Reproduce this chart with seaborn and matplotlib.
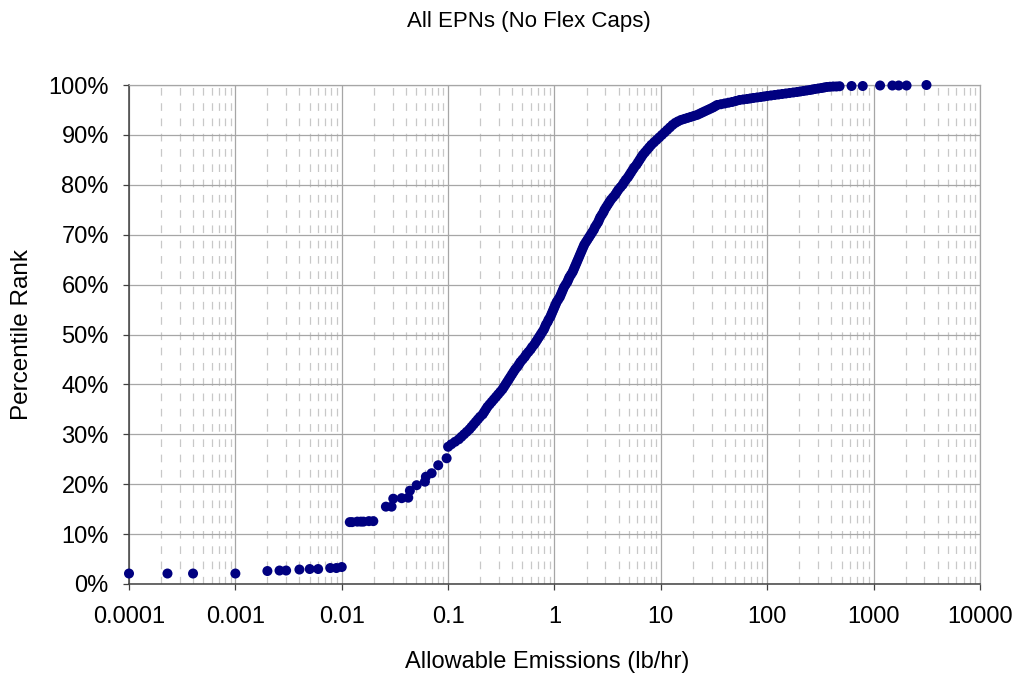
import matplotlib
matplotlib.use("Agg")
import matplotlib.pyplot as plt
import seaborn as sns
import pandas as pd
import numpy as np
from matplotlib.ticker import FixedLocator, FuncFormatter, PercentFormatter, LogLocator, NullFormatter

# ---- data (x: lb/hr, y: percentile rank %) ----
low_x = [0.0001, 0.00023, 0.0004, 0.001, 0.002, 0.0026, 0.003, 0.004, 0.005, 0.006,
         0.0078, 0.0089, 0.01]
low_y = [2.1, 2.1, 2.1, 2.1, 2.6, 2.7, 2.7, 2.9, 3.0, 3.0, 3.2, 3.2, 3.4]

mid_x = [0.0119, 0.0125, 0.014, 0.0151, 0.016, 0.018, 0.0198,
         0.026, 0.0294, 0.0305, 0.0366, 0.0422, 0.0437, 0.0506, 0.0605, 0.0618,
         0.070, 0.0807, 0.0968]
mid_y = [12.4, 12.4, 12.5, 12.5, 12.5, 12.6, 12.6,
         15.5, 15.5, 17.1, 17.2, 17.3, 18.7, 19.8, 20.5, 21.5,
         22.2, 23.8, 25.2]

# main curve: percentile level and log10(x) read at that level
curve_y = [27.5, 28, 28.5, 29, 29.5, 30, 30.5, 31, 31.5, 32, 32.5, 33, 33.5, 34, 34.5,
           35, 35.5, 36, 36.5, 37, 37.5, 38, 38.5, 39, 39.5, 40, 40.5, 41, 41.5, 42,
           42.5, 43, 43.5, 44, 44.5, 45, 45.5, 46, 46.5, 47, 47.5, 48, 48.5, 49, 49.5,
           50, 50.5, 51, 51.5, 52, 52.5, 53, 53.5, 54, 54.5, 55, 55.5, 56, 56.5, 57,
           57.5, 58, 58.5, 59, 59.5, 60, 60.5, 61, 61.5, 62, 62.5, 63, 63.5, 64, 64.5,
           65, 65.5, 66, 66.5, 67, 67.5, 68, 68.5, 69, 69.5, 70, 70.5, 71, 71.5, 72,
           72.5, 73, 73.5, 74, 74.5, 75, 75.5, 76, 76.5, 77, 77.5, 78, 78.5, 79, 79.5,
           80, 80.5, 81, 81.5, 82, 82.5, 83, 83.5, 84, 84.5, 85, 85.5, 86, 86.5, 87,
           87.5, 88, 88.5, 89, 89.5, 90, 90.5, 91, 91.5, 92, 92.4, 92.7, 93.0, 93.2,
           93.4, 93.6, 93.8, 94.0, 94.25, 94.5, 94.75, 95.0, 95.25, 95.5, 95.75, 96.0,
           96.15, 96.3, 96.45, 96.6, 96.8, 97.0, 97.1, 97.2, 97.3, 97.4, 97.5, 97.6,
           97.7, 97.8, 97.9, 98.0, 98.1, 98.2, 98.3, 98.4, 98.5, 98.6, 98.7, 98.8,
           98.9, 99.0, 99.1, 99.2, 99.3, 99.4, 99.5, 99.6, 99.65, 99.7, 99.7, 99.75]
curve_logx = [-1.00, -0.97, -0.935, -0.90, -0.875, -0.85, -0.825, -0.80, -0.78, -0.76,
              -0.74, -0.72, -0.70, -0.675, -0.66, -0.645, -0.63, -0.61, -0.59, -0.57,
              -0.55, -0.53, -0.51, -0.49, -0.475, -0.46, -0.445, -0.43, -0.415, -0.40,
              -0.385, -0.37, -0.35, -0.335, -0.32, -0.30, -0.28, -0.265, -0.245, -0.225,
              -0.21, -0.19, -0.175, -0.16, -0.145, -0.13, -0.115, -0.10, -0.09, -0.08,
              -0.065, -0.055, -0.04, -0.03, -0.02, -0.01, 0.00, 0.01, 0.02, 0.035,
              0.05, 0.06, 0.07, 0.08, 0.09, 0.105, 0.12, 0.13, 0.14, 0.155,
              0.17, 0.18, 0.19, 0.20, 0.21, 0.22, 0.23, 0.24, 0.25, 0.26,
              0.27, 0.28, 0.295, 0.31, 0.325, 0.34, 0.355, 0.37, 0.38, 0.395,
              0.41, 0.42, 0.43, 0.445, 0.46, 0.47, 0.485, 0.50, 0.515, 0.53,
              0.55, 0.57, 0.585, 0.60, 0.62, 0.64, 0.655, 0.67, 0.69, 0.705,
              0.72, 0.735, 0.75, 0.77, 0.785, 0.80, 0.815, 0.83, 0.85, 0.87,
              0.89, 0.91, 0.935, 0.96, 0.985, 1.01, 1.035, 1.06, 1.085, 1.11,
              1.135, 1.16, 1.19, 1.22, 1.25, 1.28, 1.31, 1.34, 1.365, 1.39,
              1.415, 1.44, 1.465, 1.49, 1.51, 1.53, 1.565, 1.60, 1.635, 1.67,
              1.705, 1.74, 1.775, 1.81, 1.84, 1.87, 1.905, 1.94, 1.97, 2.00,
              2.035, 2.07, 2.105, 2.14, 2.175, 2.21, 2.245, 2.28, 2.31, 2.34,
              2.37, 2.40, 2.425, 2.45, 2.48, 2.51, 2.535, 2.56, 2.59, 2.62,
              2.65, 2.68]

top_x = [620, 790, 1150, 1500, 1720, 2040, 3140]
top_y = [99.8, 99.8, 99.9, 99.9, 99.9, 99.9, 100.0]

x_ticks = [0.0001, 0.001, 0.01, 0.1, 1, 10, 100, 1000, 10000]
x_tick_labels = ["0.0001", "0.001", "0.01", "0.1", "1", "10", "100", "1000", "10000"]
y_ticks = [0, 10, 20, 30, 40, 50, 60, 70, 80, 90, 100]

title = "All EPNs (No Flex Caps)"
xlabel = "Allowable Emissions (lb/hr)"
ylabel = "Percentile Rank"

# ---- build frame ----
curve_x = [10 ** v for v in curve_logx]
df = pd.DataFrame({
    "x": low_x + mid_x + curve_x + top_x,
    "y": low_y + mid_y + curve_y + top_y,
})

plt.rcParams["font.family"] = ["Liberation Sans", "DejaVu Sans"]
plt.rcParams["lines.scale_dashes"] = False

fig = plt.figure(figsize=(10.2, 6.77), dpi=100)
ax = fig.add_axes([129 / 1020, 1 - 584 / 677, (980 - 129) / 1020, (584 - 85) / 677])

ax.set_xscale("log")
ax.set_xlim(1e-4, 1e4)
ax.set_ylim(0, 100)

ax.xaxis.set_major_locator(FixedLocator(x_ticks))
ax.xaxis.set_minor_locator(LogLocator(base=10, subs=np.arange(2, 10)))
ax.xaxis.set_minor_formatter(NullFormatter())
ax.xaxis.set_major_formatter(FuncFormatter(lambda v, p: x_tick_labels[x_ticks.index(v)] if v in x_ticks else ""))
ax.yaxis.set_major_locator(FixedLocator(y_ticks))
ax.yaxis.set_major_formatter(PercentFormatter(decimals=0))

ax.grid(which="major", axis="both", color="#a6a6a6", linewidth=0.9, linestyle="-")
ax.grid(which="minor", axis="x", color="#c8c8c8", linewidth=0.9, linestyle=(0, (5.5, 5.5)))
ax.set_axisbelow(True)

sns.scatterplot(data=df, x="x", y="y", ax=ax, color="#000080", s=52,
                edgecolor="none", linewidth=0, clip_on=False, zorder=3, legend=False)

ax.set_xlabel("")
ax.set_ylabel("")
ax.tick_params(axis="both", which="major", labelsize=17, length=4.5, width=0.9,
               color="#404040", direction="out")
ax.tick_params(axis="y", which="major", pad=10)
ax.tick_params(axis="x", which="major", pad=11)
ax.tick_params(axis="x", which="minor", length=0)
for s in ["left", "bottom"]:
    ax.spines[s].set_color("#404040")
    ax.spines[s].set_linewidth(1.1)
for s in ["top", "right"]:
    ax.spines[s].set_color("#a6a6a6")
    ax.spines[s].set_linewidth(0.9)

fig.text(529 / 1020, 1 - 22 / 677, title, ha="center", va="center", fontsize=16)
fig.text(547 / 1020, 1 - 662 / 677, xlabel, ha="center", va="center", fontsize=17)
fig.text(22 / 1020, 1 - 335 / 677, ylabel, ha="center", va="center", fontsize=17.5, rotation=90)

fig.savefig("out.png", dpi=100)
